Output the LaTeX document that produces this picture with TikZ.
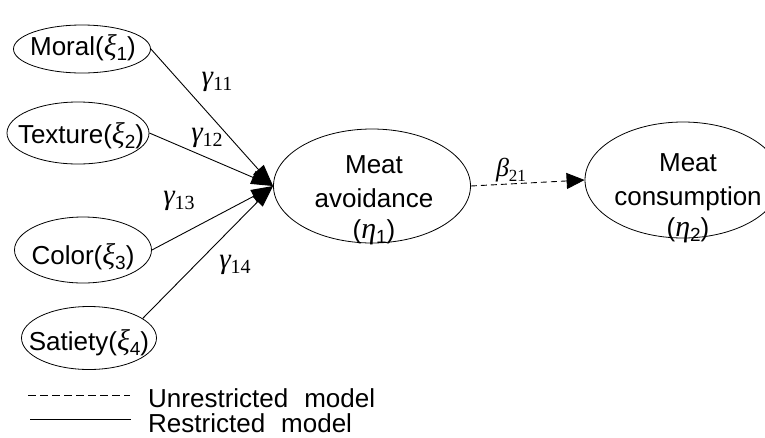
\documentclass[tikz,border=0pt]{standalone}
\usepackage[no-math]{fontspec}
\setmainfont{Liberation Sans}
\newfontfamily\grk{Liberation Serif}
\newcommand\gi[1]{{\grk\itshape\fontsize{30}{30}\selectfont #1}}
\newcommand\sbs[2][19]{\raisebox{-5pt}{\fontsize{#1}{#1}\selectfont #2}}
\usetikzlibrary{shapes.geometric,arrows.meta}
\begin{document}
\begin{tikzpicture}[x=1pt,y=-1pt,
  ell/.style={draw,ellipse,inner sep=0pt,line width=0.8pt},
  txt/.style={inner sep=0pt,align=center,font=\fontsize{26}{34}\selectfont},
  lbl/.style={inner sep=0pt,font=\grk\itshape\fontsize{29}{29}\selectfont},
  arr/.style={line width=0.9pt,-{Triangle[length=22pt,width=14pt]}},
  darr/.style={line width=0.9pt,dash pattern=on 6pt off 4pt,-{Triangle[length=18pt,width=16pt]}},
  leg/.style={inner sep=0pt,anchor=base west,font=\fontsize{26}{30}\selectfont}]
\useasboundingbox (0,0) rectangle (765,437);
\clip (0,0) rectangle (765,437);
% exogenous
\node[ell,minimum width=137pt,minimum height=48pt] (moral) at (82,49) {};
\node[txt] (moralt) at (83,48) {Moral(\gi{ξ}\sbs{1})};
\node[ell,minimum width=142pt,minimum height=62pt] (texture) at (78,133) {};
\node[txt] (texturet) at (81,136) {Texture(\gi{ξ}\sbs{2})};
\node[ell,minimum width=137pt,minimum height=66pt] (color) at (83,250) {};
\node[txt] (colort) at (83,257) {Color(\gi{ξ}\sbs{3})};
\node[ell,minimum width=135pt,minimum height=63pt] (satiety) at (89,338) {};
\node[txt] (satietyt) at (89,343) {Satiety(\gi{ξ}\sbs{4})};
% endogenous
\node[ell,minimum width=197pt,minimum height=114pt] (avoid) at (372,186) {};
\node[txt] (avoidt) at (374,200) {Meat\\avoidance\\[-3pt](\gi{η}\sbs{1})};
\node[ell,minimum width=196pt,minimum height=116pt] (cons) at (683,180) {};
\node[txt] (const) at (688,198) {Meat\\consumption\\[-3pt](\gi{η}\sbs{2})};
% connectors
\draw[arr] (moral.east) -- (avoid.west);
\draw[arr] (texture.east) -- (avoid.west);
\draw[arr] (color.east) -- (avoid.west);
\draw[arr] (satiety.20) -- (avoid.west);
\draw[darr] (avoid.east) -- (cons.west);
% labels
\node[lbl] (g11) at (217,82) {γ\sbs[20]{\upshape 11}};
\node[lbl] (g12) at (207,138) {γ\sbs[20]{\upshape 12}};
\node[lbl] (g13) at (179,201) {γ\sbs[20]{\upshape 13}};
\node[lbl] (g14) at (235,265) {γ\sbs[20]{\upshape 14}};
\node[lbl] (b21) at (511,170) {\fontsize{26}{26}\selectfont β\sbs[17]{\upshape 21}};
% legend
\coordinate (d1) at (28,395);
\coordinate (d2) at (130,395);
\coordinate (s1) at (30,419);
\coordinate (s2) at (131,419);
\draw[line width=0.9pt,dash pattern=on 8pt off 4pt] (d1) -- (d2);
\draw[line width=1pt] (s1) -- (s2);
\node[leg] (unr) at (148,407) {Unrestricted\hspace{16pt}model};
\node[leg] (res) at (148,432) {Restricted\hspace{16pt}model};
\end{tikzpicture}
\end{document}
